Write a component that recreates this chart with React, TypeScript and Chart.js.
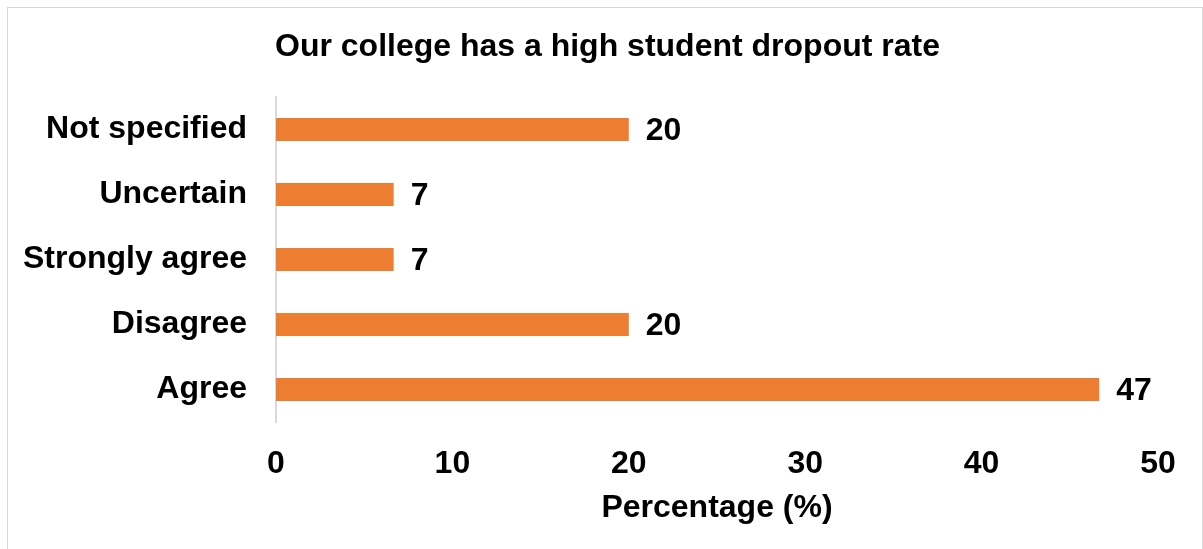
import React, { useEffect, useRef } from "react";
import { Chart, registerables } from "chart.js";

Chart.register(...registerables);

const categories = ["Not specified", "Uncertain", "Strongly agree", "Disagree", "Agree"];
const percentages = [20, 6.67, 6.67, 20, 46.67];
const xTicks = [0, 10, 20, 30, 40, 50];
const titleText = "Our college has a high student dropout rate";
const xTitle = "Percentage (%)";

const FONT = "'Liberation Sans', Arial, sans-serif";
const FS = 32;

const valueLabels = {
  id: "valueLabels",
  afterDatasetsDraw(chart: any) {
    const ctx = chart.ctx;
    const meta = chart.getDatasetMeta(0);
    ctx.save();
    ctx.font = `bold ${FS}px ${FONT}`;
    ctx.fillStyle = "#000";
    ctx.textAlign = "left";
    ctx.textBaseline = "middle";
    meta.data.forEach((el: any, i: number) => {
      const v = chart.data.datasets[0].data[i];
      ctx.fillText(String(Math.round(v)), el.x + 17, el.y + 2);
    });
    ctx.restore();
  },
};

export default function App() {
  const ref = useRef<HTMLCanvasElement>(null);
  useEffect(() => {
    if (!ref.current) return;
    const chart = new Chart(ref.current, {
      type: "bar",
      data: {
        labels: categories,
        datasets: [
          {
            data: percentages,
            backgroundColor: "#ED7D31",
            borderWidth: 0,
            barPercentage: 0.355,
            categoryPercentage: 1,
          },
        ],
      },
      plugins: [valueLabels],
      options: {
        indexAxis: "y",
        animation: false,
        responsive: false,
        maintainAspectRatio: false,
        layout: { padding: { left: 12, right: 0, top: 0, bottom: 0 } },
        plugins: {
          legend: { display: false },
          tooltip: { enabled: false },
          title: {
            display: true,
            text: titleText,
            color: "#000",
            font: { family: FONT, size: FS, weight: "bold", lineHeight: 1.2 },
            padding: { top: 28, bottom: 30.6 },
          },
        },
        scales: {
          x: {
            type: "linear",
            min: 0,
            max: 50,
            afterBuildTicks: (s: any) => {
              s.ticks = xTicks.map((v) => ({ value: v }));
            },
            afterFit: (s: any) => {
              s.height = 127;
            },
            grid: { display: false, drawTicks: false },
            border: { display: false },
            ticks: {
              color: "#000",
              padding: 23,
              font: { family: FONT, size: FS, weight: "bold", lineHeight: 1.2 },
            },
            title: {
              display: true,
              text: xTitle,
              color: "#000",
              font: { family: FONT, size: FS, weight: "bold", lineHeight: 1.2 },
              padding: { top: 22, bottom: 22 },
            },
          },
          y: {
            type: "category",
            position: "left",
            afterFit: (s: any) => {
              s.width = 264;
            },
            grid: { display: false, drawTicks: false },
            border: { display: true, color: "#d9d9d9", width: 2 },
            ticks: {
              color: "#000",
              padding: 29,
              font: { family: FONT, size: FS, weight: "bold", lineHeight: 1.2 },
            },
          },
          yRight: {
            type: "linear",
            position: "right",
            display: true,
            afterFit: (s: any) => {
              s.width = 45;
            },
            grid: { display: false, drawTicks: false },
            border: { display: false },
            ticks: { display: false },
          },
        },
      },
    });
    return () => chart.destroy();
  }, []);

  return (
    <>
      <div
        style={{
          position: "absolute",
          left: 7,
          top: 7,
          width: 1196,
          height: 542,
          boxSizing: "border-box",
          borderTop: "1px solid #d9d9d9",
          borderLeft: "1px solid #d9d9d9",
          borderRight: "1px solid #d9d9d9",
        }}
      />
      <canvas
        ref={ref}
        width={1203}
        height={549}
        style={{ position: "absolute", left: 0, top: 0, width: 1203, height: 549 }}
      />
    </>
  );
}
